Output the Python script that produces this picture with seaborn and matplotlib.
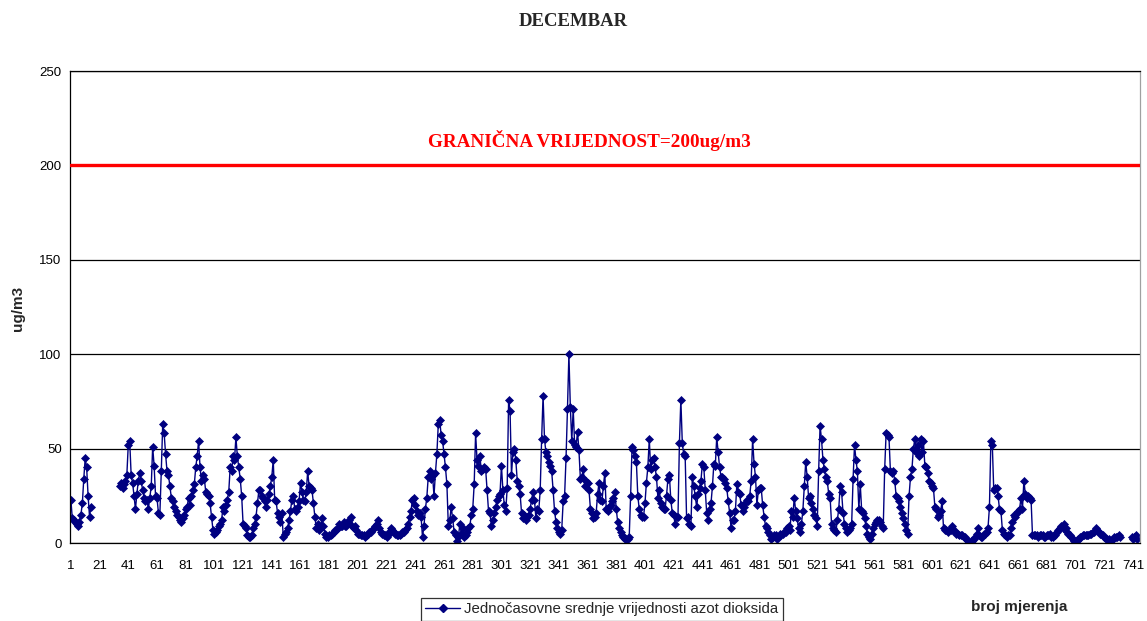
import numpy as np
import pandas as pd
import matplotlib
matplotlib.use("Agg")
import matplotlib.pyplot as plt
from matplotlib.lines import Line2D
import seaborn as sns

# ---- data: hourly NO2 means (ug/m3), one list per day (24 h), None = missing ----
N = None
d01 = [23, 13, 12, 11, 10, 9, 11, 15, 21, 34, 45, 40, 25, 14, 19, N, N, N, N, N, N, N, N, N]
d02 = [N, N, N, N, N, N, N, N, N, N, 30, 32, 29, 31, 33, 36, 52, 54, 36, 32, 25, 18, 26, 33]
d03 = [37, 33, 28, 24, 22, 23, 18, 24, 30, 51, 41, 25, 24, 16, 15, 38, 63, 58, 47, 38, 36, 30, 24, 22]
d04 = [19, 17, 15, 14, 12, 11, 13, 15, 18, 19, 24, 20, 25, 28, 31, 40, 46, 54, 40, 33, 36, 34, 27, 26]
d05 = [25, 21, 14, 7, 5, 6, 7, 9, 10, 12, 19, 17, 20, 23, 27, 40, 38, 46, 44, 56, 46, 40, 34, 25]
d06 = [10, 9, 8, 4, 3, 3, 4, 8, 10, 14, 21, 28, 28, 25, 24, 22, 19, 23, 26, 30, 35, 44, 23, 22]
d07 = [16, 14, 11, 16, 3, 5, 6, 8, 12, 17, 23, 25, 18, 17, 19, 22, 32, 27, 23, 22, 27, 38, 30, 29]
d08 = [28, 21, 14, 8, 10, 7, 9, 13, 9, 5, 3, 3, 4, 4, 5, 6, 7, 7, 8, 10, 9, 9, 11, 9]
d09 = [9, 11, 12, 14, 9, 8, 9, 7, 5, 5, 4, 4, 4, 3, 4, 5, 6, 6, 7, 8, 9, 10, 12, 8]
d10 = [6, 5, 4, 4, 3, 4, 6, 8, 7, 6, 5, 4, 4, 4, 5, 6, 6, 7, 8, 10, 14, 17, 23, 24]
d11 = [20, 17, 15, 16, 14, 3, 9, 18, 24, 35, 38, 34, 36, 25, 37, 47, 63, 65, 57, 54, 47, 40, 31, 9]
d12 = [12, 19, 13, 6, 4, 1, 3, 10, 5, 8, 3, 4, 6, 8, 9, 15, 18, 31, 58, 44, 41, 46, 38, 39]
d13 = [40, 39, 28, 17, 16, 9, 12, 16, 19, 23, 25, 26, 41, 28, 20, 17, 29, 76, 70, 36, 48, 50, 44, 33]
d14 = [30, 26, 16, 13, 15, 12, 14, 15, 18, 23, 27, 23, 13, 18, 17, 28, 55, 78, 55, 48, 46, 43, 41, 38]
d15 = [28, 17, 11, 8, 6, 5, 7, 22, 25, 45, 71, 100, 72, 54, 71, 52, 51, 59, 49, 34, 35, 39, 30, 33]
d16 = [32, 28, 18, 16, 13, 14, 16, 26, 32, 23, 22, 30, 37, 18, 17, 19, 20, 22, 24, 27, 18, 11, 8, 6]
d17 = [4, 3, 2, 2, 2, 3, 25, 51, 49, 46, 43, 25, 18, 15, 14, 14, 21, 32, 40, 55, 39, 44, 45, 40]
d18 = [35, 24, 28, 21, 19, 18, 18, 25, 34, 36, 23, 16, 15, 10, 14, 14, 53, 76, 53, 47, 46, 13, 14, 10]
d19 = [9, 35, 30, 25, 19, 26, 29, 33, 42, 40, 28, 16, 12, 18, 21, 30, 42, 41, 56, 48, 40, 35, 35, 34]
d20 = [32, 29, 22, 16, 8, 12, 12, 17, 31, 27, 26, 20, 17, 19, 21, 23, 22, 25, 33, 55, 42, 35, 20, 28]
d21 = [29, 29, 20, 14, 9, 8, 6, 4, 2, 3, 4, 4, 2, 3, 5, 4, 5, 6, 6, 8, 9, 7, 17, 14]
d22 = [24, 17, 13, 8, 6, 10, 17, 30, 43, 35, 24, 25, 21, 18, 15, 13, 9, 38, 62, 55, 44, 39, 35, 33]
d23 = [26, 24, 10, 8, 7, 6, 12, 18, 30, 27, 16, 10, 8, 6, 7, 8, 10, 34, 52, 44, 38, 18, 31, 17]
d24 = [16, 13, 9, 5, 3, 2, 5, 8, 10, 11, 12, 12, 11, 9, 8, 39, 58, 57, 56, 38, 37, 38, 33, 25]
d25 = [24, 22, 19, 16, 13, 10, 7, 5, 25, 35, 39, 50, 55, 48, 52, 46, 55, 48, 54, 41, 40, 37, 33, 32]
d26 = [30, 29, 19, 18, 14, 15, 17, 22, 8, 7, 7, 6, 7, 7, 9, 7, 6, 5, 5, 4, 4, 4, 3, 3]
d27 = [2, 1, 0, 1, 1, 2, 3, 5, 8, 4, 3, 3, 5, 5, 6, 8, 19, 54, 52, 28, 29, 29, 25, 18]
d28 = [17, 7, 5, 4, 3, 4, 4, 8, 11, 15, 14, 16, 17, 18, 24, 18, 33, 26, 24, 25, 24, 23, 4, 4]
d29 = [4, 4, 3, 4, 4, 4, 3, 3, 4, 4, 5, 3, 3, 4, 4, 6, 7, 8, 9, 8, 10, 8, 6, 5]
d30 = [4, 3, 2, 1, 0, 1, 2, 3, 3, 4, 4, 4, 4, 4, 5, 5, 6, 6, 8, 7, 6, 5, 5, 4]
d31 = [3, 2, 2, 2, 1, 1, 2, 3, 3, 3, 4, 3, N, N, N, N, N, N, N, 3, 2, 3, 4, 2]

days = [d01, d02, d03, d04, d05, d06, d07, d08, d09, d10, d11, d12, d13, d14, d15, d16,
        d17, d18, d19, d20, d21, d22, d23, d24, d25, d26, d27, d28, d29, d30, d31]

x_tick_labels = [str(v) for v in range(1, 742, 20)]
y_ticks = [0, 50, 100, 150, 200, 250]
limit_value = 200
title = "DECEMBAR"
limit_label = "GRANIČNA VRIJEDNOST=200ug/m3"
series_label = "Jednočasovne srednje vrijednosti azot dioksida"
x_label = "broj mjerenja"
y_label = "ug/m3"

# ---- table ----
vals = [v for d in days for v in d]
df = pd.DataFrame({"mjerenje": np.arange(1, len(vals) + 1),
                   "no2": pd.array(vals, dtype="Float64").astype(float)})
df["seg"] = df["no2"].isna().cumsum()
df = df.dropna(subset=["no2"])

# ---- style ----
sns.set_theme(style="white")
plt.rcParams["font.family"] = ["Liberation Sans", "DejaVu Sans"]
serif = ["Liberation Serif", "DejaVu Serif"]

W, H = 1147, 621
fig = plt.figure(figsize=(W / 100, H / 100), dpi=100)
fig.patch.set_facecolor("white")
L, R, T, B = 70, 1140, 71, 543
ax = fig.add_axes([L / W, 1 - B / H, (R - L) / W, (B - T) / H])
ax.set_facecolor("white")

navy = "#000080"
sns.lineplot(data=df, x="mjerenje", y="no2", units="seg", estimator=None,
             color=navy, lw=1.0, marker="D", markersize=4.4,
             markeredgecolor=navy, markerfacecolor=navy, markeredgewidth=0.5,
             ax=ax, legend=False)

ax.axhline(limit_value, color="#ff0000", lw=2.4, zorder=3)
ax.text(0.4855, 0.853, limit_label, transform=ax.transAxes, ha="center", va="center",
        color="#ff0000", fontsize=13.8, fontweight="bold", family=serif)

ax.set_xlim(0.4, 745.9)
ax.set_ylim(0, 250)
ax.set_yticks(y_ticks)
ax.set_yticklabels([str(v) for v in y_ticks], fontsize=9.5)
ax.yaxis.grid(True, color="black", lw=0.9)
ax.set_axisbelow(True)

ax.set_xticks(np.arange(1, 742, 20))
ax.set_xticklabels(x_tick_labels, fontsize=9.5)
ax.set_xticks(np.arange(0.5, 745.6, 2.0), minor=True)
ax.tick_params(axis="x", which="major", length=0, pad=12)
ax.tick_params(axis="x", which="minor", length=5, width=1.0, color="black", direction="out")
ax.tick_params(axis="y", which="major", length=4, width=0.8, color="black", direction="out", pad=2)
ax.tick_params(axis="both", colors="black", labelcolor="black")
ax.set_xlabel("")
ax.set_ylabel("")

for s in ["left", "bottom", "top"]:
    ax.spines[s].set_color("black")
    ax.spines[s].set_linewidth(0.9)
ax.spines["right"].set_color("#a0a0a0")
ax.spines["right"].set_linewidth(0.9)

fig.text(573 / W, 1 - 22 / H, title, ha="center", va="center", fontsize=13.5,
         fontweight="bold", family=serif)
fig.text(18 / W, 1 - 308 / H, y_label, rotation=90, ha="center", va="center",
         fontsize=11, fontweight="bold")
fig.text(1019 / W, 1 - 607 / H, x_label, ha="center", va="center",
         fontsize=11, fontweight="bold")

handle = Line2D([], [], color=navy, lw=1.0, marker="D", markersize=4.4,
                markeredgecolor=navy, markerfacecolor=navy)
leg = fig.legend([handle], [series_label], loc="center", bbox_to_anchor=(602 / W, 1 - 609 / H),
                 fontsize=10.8, frameon=True, fancybox=False, handlelength=2.3,
                 borderpad=0.3, handletextpad=0.3, borderaxespad=0)
leg.get_frame().set_edgecolor("black")
leg.get_frame().set_linewidth(0.9)

fig.savefig("out.png", dpi=100, facecolor="white")
